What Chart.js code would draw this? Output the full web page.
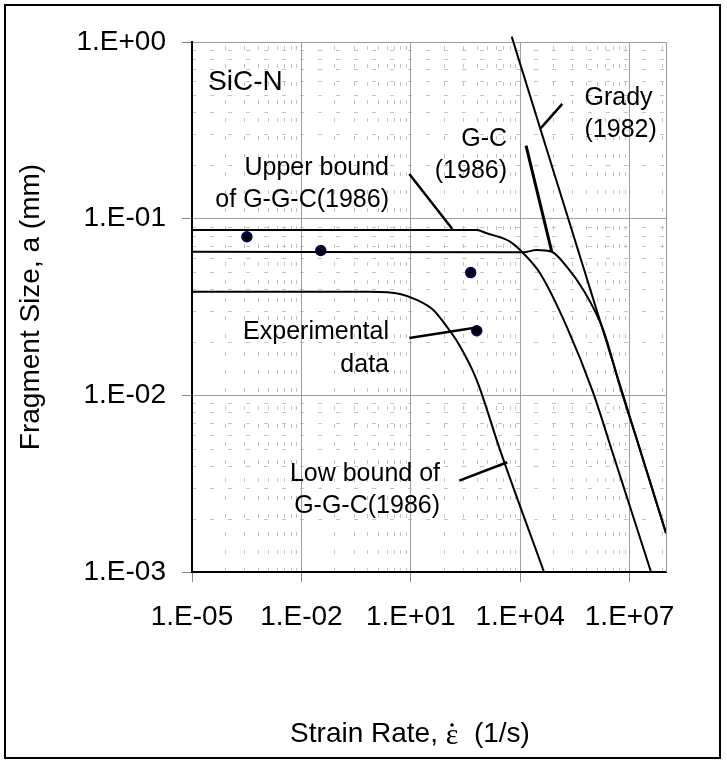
<!DOCTYPE html>
<html><head><meta charset="utf-8">
<script src="https://cdn.jsdelivr.net/npm/chart.js@4.4.1/dist/chart.umd.min.js"></script>
<style>html,body{margin:0;padding:0;background:#fff;}#wrap{width:727px;height:762px;position:relative;}canvas{background:#fff;}</style>
</head><body><div id="wrap"><canvas id="c"></canvas></div>
<script>
const SANS = "'Liberation Sans', Arial, Helvetica, sans-serif";
const SERIF = "'Liberation Serif', 'Times New Roman', serif";

// ---- tick values / labels ----
const xTickValues = [1e-5, 1e-2, 1e1, 1e4, 1e7];
const xTickLabels = ['1.E-05', '1.E-02', '1.E+01', '1.E+04', '1.E+07'];
const yTickValues = [1e-3, 1e-2, 1e-1, 1];
const yTickLabels = ['1.E-03', '1.E-02', '1.E-01', '1.E+00'];

// ---- series ----
const upperX = [1e-5, 644, 1210, 5270, 12200, 35100, 189000, 1.016e6, 3.24e6, 3.88e7];
const upperY = [0.0863, 0.0863, 0.0827, 0.0741, 0.0637, 0.0491, 0.0245, 0.0103, 0.00491, 0.001];

const gcX = [1e-5, 12200, 28400, 73400, 189000, 540000, 1.91e6, 5.48e6, 1.94e7, 1e8];
const gcY = [0.0650, 0.0645, 0.0665, 0.0650, 0.0535, 0.0395, 0.0234, 0.0112, 0.00491, 0.00166];

const lowX = [1e-5, 0.76, 5.07, 14.6, 41.5, 96.8, 201, 644, 2800, 45100];
const lowY = [0.0386, 0.0386, 0.0375, 0.0347, 0.0304, 0.0245, 0.0197, 0.0122, 0.00491, 0.001];

const gradyX = [5860, 1e8];
const gradyY = [1.072, 0.00166];

const expX = [3.2e-4, 0.034, 440, 645];
const expY = [0.079, 0.066, 0.0495, 0.0232];

// ---- annotation pointer lines (data coordinates) ----
const ptrUpperX = [9.12, 138];     const ptrUpperY = [0.179, 0.0874];
const ptrGcX = [14500, 73400];     const ptrGcY = [0.259, 0.0650];
const ptrGradyX = [143000, 36600]; const ptrGradyY = [0.446, 0.325];
const ptrExpX = [9.12, 644];       const ptrExpY = [0.0211, 0.0242];
const ptrLowX = [214, 4450];       const ptrLowY = [0.00329, 0.00418];

// ---- annotation texts ----
const noteTexts = [
  ['SiC-N'],
  ['Upper bound', 'of G-G-C(1986)'],
  ['G-C', '(1986)'],
  ['Grady', '(1982)'],
  ['Experimental', 'data'],
  ['Low bound of', 'G-G-C(1986)']
];
const noteAnchorX = [2.75e-5, 2.53, 4365, 5.82e5, 2.53, 63.4];
const noteAnchorY = [0.594, 0.1936, 0.2825, 0.482, 0.0227, 0.00359];
const noteAlign = ['left', 'right', 'right', 'left', 'right', 'right'];
const noteSize = [28, 25, 25, 25, 25, 25];

const zip = (xs, ys) => xs.map((x, i) => ({x: x, y: ys[i]}));

function lineDs(xs, ys, w, extra) {
  return Object.assign({
    data: zip(xs, ys), showLine: true, borderColor: '#000', borderWidth: w,
    pointRadius: 0, fill: false, cubicInterpolationMode: 'monotone', tension: 0
  }, extra || {});
}

const minorGrid = {
  id: 'minorGrid',
  beforeDraw(chart) {
    const {ctx, chartArea: a, scales: {x, y}} = chart;
    ctx.save();
    ctx.beginPath(); ctx.rect(a.left + 1, a.top, a.right - a.left - 1, a.bottom - a.top - 1); ctx.clip();
    ctx.strokeStyle = '#c4c4c4'; ctx.lineWidth = 1; ctx.setLineDash([4, 14]);
    for (let d = -3; d < 0; d++) {
      for (let k = 2; k <= 9; k++) {
        const py = Math.round(y.getPixelForValue(k * Math.pow(10, d))) + 0.5;
        ctx.beginPath(); ctx.moveTo(a.left, py); ctx.lineTo(a.right, py); ctx.stroke();
      }
    }
    xTickValues.forEach(v => {
      for (let k = 2; k <= 9; k++) {
        const val = v * k * k * k;
        if (val >= 1e8) continue;
        const px = Math.round(x.getPixelForValue(val)) + 0.5;
        ctx.beginPath(); ctx.moveTo(px, a.bottom); ctx.lineTo(px, a.top); ctx.stroke();
      }
    });
    ctx.restore();
  }
};

const decorations = {
  id: 'decorations',
  afterDatasetsDraw(chart) {
    const {ctx, scales: {x, y}} = chart;
    ctx.save();
    ctx.fillStyle = '#000';
    ctx.textBaseline = 'middle';
    noteTexts.forEach((lines, i) => {
      const px = x.getPixelForValue(noteAnchorX[i]);
      const py = y.getPixelForValue(noteAnchorY[i]);
      ctx.font = noteSize[i] + 'px ' + SANS;
      ctx.textAlign = noteAlign[i];
      lines.forEach((t, j) => ctx.fillText(t, px, py + j * 32.5));
    });
    ctx.restore();
  },
  afterDraw(chart) {
    const {ctx, chartArea: a} = chart;
    ctx.save();
    // right edge of the plot area
    ctx.strokeStyle = '#999'; ctx.lineWidth = 1;
    ctx.beginPath(); ctx.moveTo(Math.round(a.right) + 0.5, a.top); ctx.lineTo(Math.round(a.right) + 0.5, a.bottom); ctx.stroke();
    // x axis title with epsilon dot
    const cx = 410, cy = 734;
    const segs = [['Strain Rate, ', '28px ' + SANS], ['\u03B5', '30px ' + SERIF], ['  (1/s)', '28px ' + SANS]];
    let total = 0;
    segs.forEach(s => { ctx.font = s[1]; total += ctx.measureText(s[0]).width; });
    let xx = cx - total / 2;
    ctx.fillStyle = '#000'; ctx.textBaseline = 'middle'; ctx.textAlign = 'left';
    segs.forEach((s, i) => {
      ctx.font = s[1];
      const w = ctx.measureText(s[0]).width;
      ctx.fillText(s[0], xx, cy + (i === 1 ? 2 : 0));
      if (i === 1) {
        ctx.beginPath(); ctx.arc(xx + w / 2, cy - 9, 1.8, 0, Math.PI * 2); ctx.fill();
      }
      xx += w;
    });
    // outer border
    ctx.strokeStyle = '#000'; ctx.lineWidth = 2;
    ctx.strokeRect(5, 5, 715, 753);
    ctx.restore();
  }
};

new Chart(document.getElementById('c'), {
  type: 'scatter',
  data: {
    datasets: [
      lineDs(upperX, upperY, 2),
      lineDs(gcX, gcY, 2),
      lineDs(lowX, lowY, 2),
      lineDs(gradyX, gradyY, 2, {clip: false}),
      lineDs(ptrUpperX, ptrUpperY, 2.5),
      lineDs(ptrGcX, ptrGcY, 3),
      lineDs(ptrGradyX, ptrGradyY, 2.5),
      lineDs(ptrExpX, ptrExpY, 2.5),
      lineDs(ptrLowX, ptrLowY, 2.5),
      {data: zip(expX, expY), showLine: false, pointRadius: 5, pointBackgroundColor: '#000',
       pointBorderColor: '#000080', pointBorderWidth: 1.5}
    ]
  },
  options: {
    responsive: true, maintainAspectRatio: false, animation: false,
    layout: {padding: {left: 0, top: 42, right: 61, bottom: 0}},
    plugins: {legend: {display: false}, tooltip: {enabled: false}},
    scales: {
      x: {
        type: 'logarithmic', min: 1e-5, max: 1e8,
        afterBuildTicks: s => { s.ticks = xTickValues.map(v => ({value: v})); },
        afterFit: s => { s.height = 190; },
        ticks: {autoSkip: false, maxRotation: 0, minRotation: 0, padding: 18, color: '#000',
                font: {family: SANS, size: 28}, callback: (v, i) => xTickLabels[i]},
        grid: {color: '#a0a0a0', lineWidth: 1, tickLength: 10, tickColor: '#888', tickWidth: 1},
        border: {display: true, color: '#000', width: 2}
      },
      y: {
        type: 'logarithmic', min: 1e-3, max: 1,
        afterBuildTicks: s => { s.ticks = yTickValues.map(v => ({value: v})); },
        afterFit: s => { s.width = 192; },
        ticks: {autoSkip: false, padding: 16, color: '#000',
                font: {family: SANS, size: 28}, callback: (v, i) => yTickLabels[i]},
        grid: {color: '#a0a0a0', lineWidth: 1, tickLength: 10, tickColor: '#888', tickWidth: 1},
        border: {display: true, color: '#000', width: 2},
        title: {display: true, text: 'Fragment Size, a (mm)', color: '#000',
                font: {family: SANS, size: 28}, padding: {top: 14, bottom: 0}}
      }
    }
  },
  plugins: [minorGrid, decorations]
});
</script></body></html>
